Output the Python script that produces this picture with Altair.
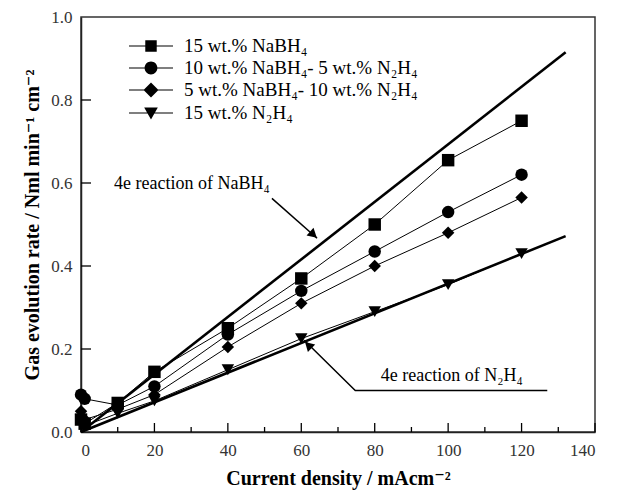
import altair as alt
import pandas as pd

# ---- data ----
x_vals = [0, 1, 10, 20, 40, 60, 80, 100, 120]
series_names = ["15 wt.% NaBH₄", "10 wt.% NaBH₄- 5 wt.% N₂H₄",
                "5 wt.% NaBH₄- 10 wt.% N₂H₄", "15 wt.% N₂H₄"]
nabh4_15 = [0.03, 0.02, 0.07, 0.145, 0.25, 0.37, 0.50, 0.655, 0.75]
mix_10_5 = [0.09, 0.08, 0.065, 0.11, 0.235, 0.34, 0.435, 0.53, 0.62]
mix_5_10 = [0.05, 0.03, 0.055, 0.09, 0.205, 0.31, 0.40, 0.48, 0.565]
n2h4_15 = [0.03, 0.015, 0.045, 0.075, 0.15, 0.225, 0.29, 0.355, 0.43]

theory_x = [0, 132]
theory_nabh4 = [0, 0.915]
theory_n2h4 = [0, 0.472]

x_major = [0, 20, 40, 60, 80, 100, 120, 140]
x_minor = [10, 30, 50, 70, 90, 110, 130]
y_major = [0.2, 0.4, 0.6, 0.8]

ann_text = ["4e reaction of NaBH₄", "4e reaction of N₂H₄"]
ann_x = [30.2, 101]
ann_y = [0.597, 0.135]

W, H = 514, 415
SERIF = "'Times New Roman', 'Liberation Serif', 'DejaVu Serif', serif"

rows = []
for name, ys in zip(series_names, [nabh4_15, mix_10_5, mix_5_10, n2h4_15]):
    for xv, yv in zip(x_vals, ys):
        rows.append({"series": name, "x": xv, "y": yv})
df = pd.DataFrame(rows)

th_rows = []
for name, ys in [("NaBH4", theory_nabh4), ("N2H4", theory_n2h4)]:
    for xv, yv in zip(theory_x, ys):
        th_rows.append({"line": name, "x": xv, "y": yv})
th = pd.DataFrame(th_rows)

xs = alt.Scale(domain=[0, 140], nice=False)
ys_ = alt.Scale(domain=[0, 1.0], nice=False)

X = alt.X("x:Q", scale=xs, axis=alt.Axis(
    title="Current density / mAcm⁻²", values=x_major, ticks=False,
    labelPadding=10, titlePadding=10, grid=False))
Y = alt.Y("y:Q", scale=ys_, axis=alt.Axis(
    title="Gas evolution rate / Nml min⁻¹ cm⁻²", values=[0, 0.2, 0.4, 0.6, 0.8, 1.0],
    format=".1f", ticks=False, labelPadding=9, titlePadding=8, grid=False))

shape_plot = alt.Scale(domain=series_names,
                       range=["square", "circle", "diamond", "triangle-down"])

lines = alt.Chart(df).mark_line(color="black", strokeWidth=1).encode(
    x=X, y=Y, detail="series:N")

points = alt.Chart(df).mark_point(filled=True, color="black", opacity=1, size=155).encode(
    x="x:Q", y="y:Q",
    shape=alt.Shape("series:N", scale=shape_plot, legend=None))

BAR = "M-2,-0.055H2V0.055H-2Z"
legend_paths = [
    BAR + "M-0.52,-0.52H0.52V0.52H-0.52Z",
    BAR + "M-0.58,0A0.58,0.58,0,1,1,0.58,0A0.58,0.58,0,1,1,-0.58,0Z",
    BAR + "M0,-0.68L0.68,0L0,0.68L-0.68,0Z",
    BAR + "M-0.62,-0.5L0.62,-0.5L0,0.6Z",
]
legend_layer = alt.Chart(df).transform_filter("false").mark_point(
    filled=True, color="black", opacity=1).encode(
    x="x:Q", y="y:Q",
    shape=alt.Shape("series:N", scale=alt.Scale(domain=series_names, range=legend_paths),
                    legend=alt.Legend(title=None, orient="none", legendX=58, legendY=17,
                                      symbolSize=484,
                                      symbolFillColor="black",
                                      symbolOpacity=1, labelOffset=21, rowPadding=0,
                                      labelFont=SERIF, labelFontSize=19, labelColor="black",
                                      labelLimit=400, padding=0)))

theory = alt.Chart(th).mark_line(color="black", strokeWidth=2.6).encode(
    x="x:Q", y="y:Q", detail="line:N")

# annotation arrows
arr1 = pd.DataFrame({"x": [52, 64.3], "y": [0.563, 0.467]})
arr2 = pd.DataFrame({"x": [127, 74.7, 60.8], "y": [0.100, 0.100, 0.221], "o": [0, 1, 2]})
arrow1 = alt.Chart(arr1).mark_line(color="black", strokeWidth=1.5).encode(x="x:Q", y="y:Q")
arrow2 = alt.Chart(arr2).mark_line(color="black", strokeWidth=1.5).encode(
    x="x:Q", y="y:Q", order="o:Q")
heads = pd.DataFrame({"x": [63.0, 62.2], "y": [0.478, 0.207], "a": [131.7, 314]})
head = alt.Chart(heads).mark_point(shape="triangle", filled=True, color="black",
                                   size=110, opacity=1).encode(
    x="x:Q", y="y:Q", angle=alt.Angle("a:Q", scale=None))

ann = alt.Chart(pd.DataFrame({"t": ann_text, "x": ann_x, "y": ann_y})).mark_text(
    font=SERIF, fontSize=18, color="black").encode(x="x:Q", y="y:Q", text="t:N")

# inward axis ticks
xt_major = alt.Chart(pd.DataFrame({"x": x_major})).mark_rule(color="black", strokeWidth=1.3).encode(
    x="x:Q", y=alt.value(H), y2=alt.value(H - 9))
xt_minor = alt.Chart(pd.DataFrame({"x": x_minor})).mark_rule(color="black", strokeWidth=1.3).encode(
    x="x:Q", y=alt.value(H), y2=alt.value(H - 5))
yt_major = alt.Chart(pd.DataFrame({"y": y_major})).mark_rule(color="black", strokeWidth=1.3).encode(
    y="y:Q", x=alt.value(0), x2=alt.value(10))

chart = alt.layer(
    lines, theory, points, legend_layer, arrow1, arrow2, head, ann,
    xt_major, xt_minor, yt_major
).resolve_scale(shape="independent").properties(
    width=W, height=H,
    autosize=alt.AutoSizeParams(type="none"),
    padding={"left": 73, "top": 9, "right": 14, "bottom": 60},
).configure_view(stroke="#333", strokeWidth=1.5).configure_axis(
    labelFont=SERIF, labelFontSize=17, labelColor="#333",
    titleFont=SERIF, titleFontSize=20, titleFontWeight="bold", titleColor="black",
    domainColor="#222", domainWidth=1.5,
).configure_legend(symbolOpacity=1)

chart.save("out.html", embed_options={"renderer": "svg", "actions": False})
